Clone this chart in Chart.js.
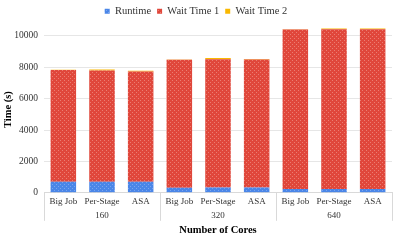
<!DOCTYPE html>
<html>
<head>
<meta charset="utf-8">
<script src="https://cdn.jsdelivr.net/npm/chart.js@4/dist/chart.umd.min.js"></script>
<style>
  html, body { margin: 0; padding: 0; background: #fff; }
  #wrap { width: 399px; height: 251px; }
</style>
</head>
<body>
<div id="wrap"><canvas id="myChart"></canvas></div>
<script>
const methods = ['Big Job', 'Per-Stage', 'ASA', 'Big Job', 'Per-Stage', 'ASA', 'Big Job', 'Per-Stage', 'ASA'];
const cores = ['160', '320', '640'];
const runtime = [710, 710, 710, 320, 330, 330, 240, 240, 240];
const waitTime1 = [7110, 7090, 7025, 8165, 8180, 8165, 10170, 10190, 10190];
const waitTime2 = [20, 60, 40, 10, 90, 40, 10, 50, 50];
const yTicks = [0, 2000, 4000, 6000, 8000, 10000];

const serif = '"Liberation Serif", "Times New Roman", serif';

function makePattern(base, dot) {
    const c = document.createElement('canvas');
    c.width = 4; c.height = 4;
    const g = c.getContext('2d');
    g.fillStyle = base;
    g.fillRect(0, 0, 4, 4);
    g.fillStyle = dot;
    g.fillRect(0, 0, 1, 1);
    g.fillRect(2, 2, 1, 1);
    return g.createPattern(c, 'repeat');
}

const ctx = document.getElementById('myChart').getContext('2d');
const bluePat = makePattern('#4a86e8', '#7aa6f0');
const redPat = makePattern('#e0473b', '#ec7d72');

// vertical separators between core groups, below the axis
const groupLines = {
    id: 'groupLines',
    afterDraw(chart) {
        const x = chart.scales.x;
        const area = chart.chartArea;
        const step = (x.getPixelForValue(1) - x.getPixelForValue(0));
        const c = chart.ctx;
        c.save();
        c.strokeStyle = '#d9d9d9';
        c.lineWidth = 1;
        for (let i = 0; i <= methods.length; i += 3) {
            const px = Math.round(x.getPixelForValue(i) - step / 2) + 0.5;
            c.beginPath();
            c.moveTo(px, area.bottom);
            c.lineTo(px, area.bottom + 28);
            c.stroke();
        }
        c.restore();
    }
};

new Chart(ctx, {
    type: 'bar',
    data: {
        labels: methods,
        datasets: [
            { label: 'Runtime', data: runtime, backgroundColor: bluePat },
            { label: 'Wait Time 1', data: waitTime1, backgroundColor: redPat },
            { label: 'Wait Time 2', data: waitTime2, backgroundColor: '#f9b800' }
        ]
    },
    options: {
        responsive: true,
        maintainAspectRatio: false,
        animation: false,
        datasets: { bar: { categoryPercentage: 1, barPercentage: 0.66 } },
        layout: { padding: { top: 0, right: 7, left: 0, bottom: 0 } },
        plugins: {
            tooltip: { enabled: false },
            legend: {
                position: 'top',
                labels: {
                    boxWidth: 5,
                    boxHeight: 5,
                    padding: 6,
                    color: '#333',
                    font: { family: serif, size: 10.5 }
                }
            }
        },
        scales: {
            x: {
                stacked: true,
                grid: { display: false, drawTicks: false },
                border: { display: true, color: '#d9d9d9' },
                ticks: { color: '#333', font: { family: serif, size: 9 }, padding: 3, maxRotation: 0, autoSkip: false }
            },
            x2: {
                type: 'category',
                labels: cores,
                position: 'bottom',
                offset: true,
                grid: { display: false, drawTicks: false },
                border: { display: false },
                ticks: { color: '#333', font: { family: serif, size: 9 }, padding: 1 },
                title: {
                    display: true,
                    text: 'Number of Cores',
                    color: '#000',
                    font: { family: serif, size: 10.5, weight: 'bold' },
                    padding: { top: 2, bottom: 14 }
                }
            },
            y: {
                stacked: true,
                min: 0,
                max: 10600,
                afterBuildTicks(scale) {
                    scale.ticks = yTicks.map(v => ({ value: v }));
                },
                afterFit(scale) {
                    scale.width = 44;
                },
                grid: { color: '#e6e6e6', drawTicks: false },
                border: { display: false },
                ticks: {
                    color: '#333', font: { family: serif, size: 9.5 }, padding: 6,
                    callback: v => String(v)
                },
                title: {
                    display: true,
                    text: 'Time (s)',
                    color: '#000',
                    font: { family: serif, size: 10.5, weight: 'bold' },
                    padding: { top: 2, bottom: 0 }
                }
            }
        }
    },
    plugins: [groupLines]
});
</script>
</body>
</html>
